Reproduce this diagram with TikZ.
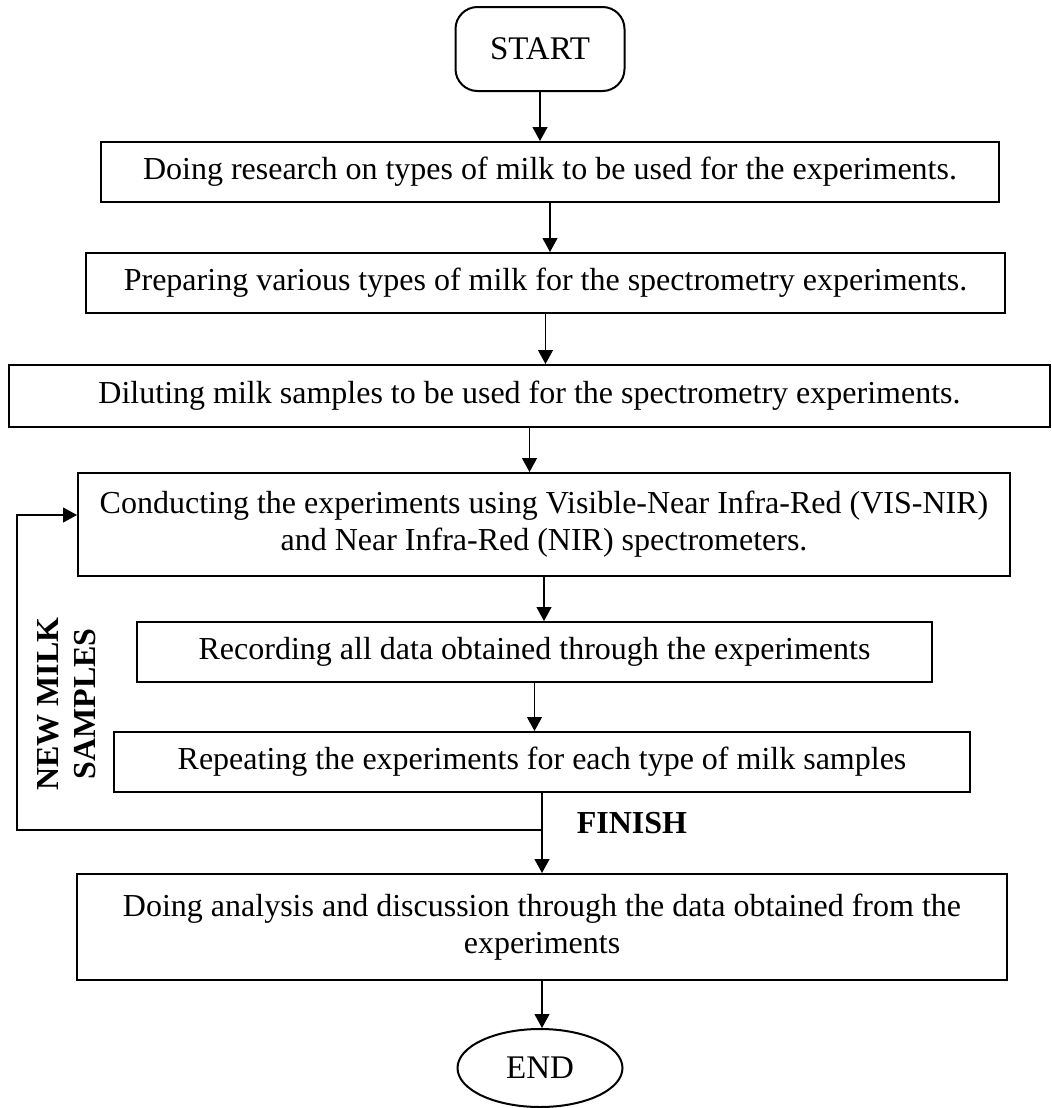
\documentclass[tikz,border=0pt]{standalone}
\usepackage{fontspec}
\setmainfont{Liberation Serif}
\usetikzlibrary{arrows.meta,shapes}
\tikzstyle{pstep}=[rectangle,draw=black,line width=1pt,align=center,inner sep=2pt,font=\fontsize{16pt}{18.5pt}\selectfont]
\tikzstyle{oterm}=[draw=black,line width=1pt,font=\fontsize{16.5pt}{18.5pt}\selectfont]
\tikzstyle{dflow}=[-{Triangle[width=7.5pt,length=7pt]}, line width=0.6pt]

\begin{document}
\begin{tikzpicture}[x=0.5pt,y=-0.5pt,dflow]
\useasboundingbox (0,0) rectangle (1052,1108);
\node[oterm,rectangle,rounded corners=11pt,minimum width=84.5pt,minimum height=42pt] (S) at (540,49) {START};
\node[pstep,minimum width=449pt,minimum height=30pt] (R1) at (550,172) {Doing research on types of milk to be used for the experiments.};
\node[pstep,minimum width=459.5pt,minimum height=30pt] (R2) at (545.5,283) {Preparing various types of milk for the spectrometry experiments.};
\node[pstep,minimum width=520.5pt,minimum height=31pt] (R3) at (529.5,396) {Diluting milk samples to be used for the spectrometry experiments.};
\node[pstep,minimum width=466pt,minimum height=51.5pt] (R4) at (544,524.5) {Conducting the experiments using Visible-Near Infra-Red (VIS-NIR)\\and Near Infra-Red (NIR) spectrometers.};
\node[pstep,minimum width=397.5pt,minimum height=30pt] (R5) at (534.5,652) {Recording all data obtained through the experiments};
\node[pstep,minimum width=428pt,minimum height=30pt] (R6) at (542,762) {Repeating the experiments for each type of milk samples};
\node[pstep,minimum width=465pt,minimum height=53pt] (R7) at (542,927) {Doing analysis and discussion through the data obtained from the\\experiments};
\node[oterm,ellipse,inner sep=0pt,minimum width=82.5pt,minimum height=39pt] (E) at (540,1068) {END};
\node[font=\fontsize{16pt}{18.5pt}\selectfont\bfseries] (F) at (632,823) {FINISH};
\node[font=\fontsize{16pt}{18.5pt}\selectfont\bfseries,align=center,rotate=90] (N) at (67,704) {NEW MILK\\SAMPLES};
\coordinate (J) at (542,830);
\coordinate (L) at (17,515);
\draw(S.south)--(S.south|-R1.north);
\draw(R1.south)--(R1.south|-R2.north);
\draw(R2.south)--(R2.south|-R3.north);
\draw(R3.south)--(R3.south|-R4.north);
\draw(R4.south)--(R4.south|-R5.north);
\draw(R5.south)--(R5.south|-R6.north);
\draw(R6.south)--(R6.south|-R7.north);
\draw(R7.south)--(R7.south|-E.north);
\draw(J)-|(L)--(L-|R4.west);
\end{tikzpicture}
\end{document}
